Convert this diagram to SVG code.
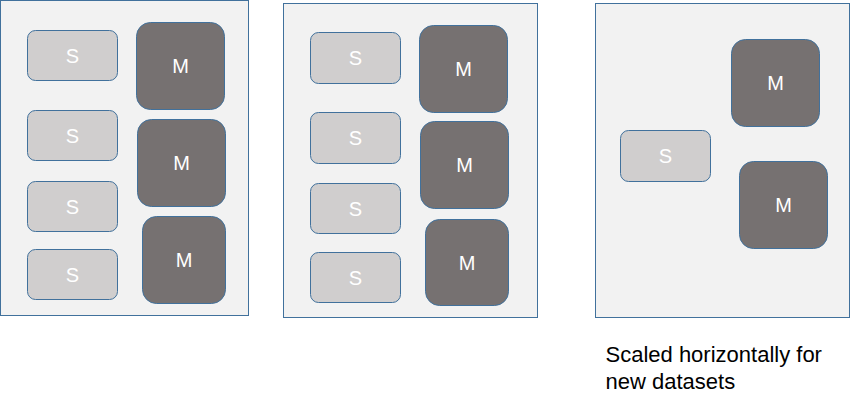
<svg xmlns="http://www.w3.org/2000/svg" width="867" height="411" viewBox="0 0 867 411">
<style>
.panel{fill:#F2F2F2;stroke:#41719C;stroke-width:1}
.s{fill:#D0CECE;stroke:#41719C;stroke-width:1}
.m{fill:#767171;stroke:#41719C;stroke-width:1}
.lbl{font-family:"Liberation Sans",Arial,sans-serif;font-size:20px;fill:#FFFFFF;text-anchor:middle}
.cap{font-family:"Liberation Sans",Arial,sans-serif;font-size:22px;fill:#000000}
</style>
<rect width="867" height="411" fill="#FFFFFF"/>
<g id="panel1">
<rect class="panel" x="0.5" y="0.5" width="248" height="315"/>
<g id="p1-s1"><rect class="s" x="27.5" y="30.5" width="90" height="50" rx="8"/><text class="lbl" x="72.5" y="62.5">S</text></g>
<g id="p1-s2"><rect class="s" x="27.5" y="110.5" width="90" height="50" rx="8"/><text class="lbl" x="72.5" y="142.5">S</text></g>
<g id="p1-s3"><rect class="s" x="27.5" y="181.5" width="90" height="50" rx="8"/><text class="lbl" x="72.5" y="213.5">S</text></g>
<g id="p1-s4"><rect class="s" x="27.5" y="249.5" width="90" height="50" rx="8"/><text class="lbl" x="72.5" y="281.5">S</text></g>
<g id="p1-m1"><rect class="m" x="136.5" y="22.5" width="88" height="87" rx="14"/><text class="lbl" x="180.5" y="73">M</text></g>
<g id="p1-m2"><rect class="m" x="137.5" y="119.5" width="88" height="87" rx="14"/><text class="lbl" x="181.5" y="170">M</text></g>
<g id="p1-m3"><rect class="m" x="142.5" y="216.5" width="83" height="87" rx="14"/><text class="lbl" x="184" y="267">M</text></g>
</g>
<g id="panel2">
<rect class="panel" x="283.5" y="3.5" width="254" height="314"/>
<g id="p2-s1"><rect class="s" x="310.5" y="32.5" width="90" height="51" rx="8"/><text class="lbl" x="355.5" y="65">S</text></g>
<g id="p2-s2"><rect class="s" x="310.5" y="112.5" width="90" height="51" rx="8"/><text class="lbl" x="355.5" y="145">S</text></g>
<g id="p2-s3"><rect class="s" x="310.5" y="183.5" width="90" height="50" rx="8"/><text class="lbl" x="355.5" y="215.5">S</text></g>
<g id="p2-s4"><rect class="s" x="310.5" y="252.5" width="90" height="50" rx="8"/><text class="lbl" x="355.5" y="284.5">S</text></g>
<g id="p2-m1"><rect class="m" x="419.5" y="25.5" width="88" height="87" rx="14"/><text class="lbl" x="463.5" y="76">M</text></g>
<g id="p2-m2"><rect class="m" x="420.5" y="121.5" width="88" height="87" rx="14"/><text class="lbl" x="464.5" y="172">M</text></g>
<g id="p2-m3"><rect class="m" x="425.5" y="219.5" width="83" height="86" rx="14"/><text class="lbl" x="467" y="269.5">M</text></g>
</g>
<g id="panel3">
<rect class="panel" x="595.5" y="3.5" width="254" height="314"/>
<g id="p3-s1"><rect class="s" x="620.5" y="130.5" width="90" height="51" rx="8"/><text class="lbl" x="665.5" y="163">S</text></g>
<g id="p3-m1"><rect class="m" x="731.5" y="39.5" width="88" height="87" rx="14"/><text class="lbl" x="775.5" y="90">M</text></g>
<g id="p3-m2"><rect class="m" x="739.5" y="161.5" width="88" height="87" rx="14"/><text class="lbl" x="783.5" y="212">M</text></g>
</g>
<g id="connectors"></g>
<g id="caption">
<text class="cap" x="605.5" y="361.5">Scaled horizontally for</text>
<text class="cap" x="605.5" y="389">new datasets</text>
</g>
</svg>
